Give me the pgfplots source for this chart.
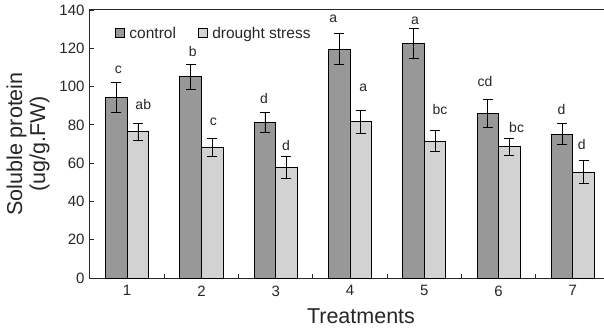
\documentclass[border=0pt]{standalone}
\usepackage{fontspec}
\setmainfont{Liberation Sans}
\usepackage{pgfplots}
\pgfplotsset{compat=1.18}
\definecolor{darkbar}{RGB}{152,152,152}
\definecolor{lightbar}{RGB}{210,210,210}
\definecolor{axisgray}{RGB}{40,40,40}
\begin{document}
\begin{tikzpicture}
\path[use as bounding box] (-90pt,-51pt) rectangle (514pt,278pt);
\begin{axis}[
  at={(0pt,0pt)}, anchor=south west,
  scale only axis, width=520pt, height=268pt,
  xmin=0.5, xmax=7.5, ymin=0, ymax=140,
  axis line style={axisgray, line width=1pt},
  tick align=inside, xtick pos=bottom, ytick pos=left,
  major tick length=4pt,
  tick style={axisgray, line width=0.8pt},
  ytick={0,20,...,140},
  xtick={1.5,2.5,3.5,4.5,5.5,6.5}, xticklabels={},
  extra x ticks={1,2,3,4,5,6,7},
  extra x tick labels={1,2,3,4,5,6,7},
  extra x tick style={major tick length=0pt},
  /pgf/number format/assume math mode=true,
  ticklabel style={font=\fontsize{15}{17}\selectfont, text=black!85},
  yticklabel style={xshift=-2pt},
  xticklabel style={yshift=-4pt},
  xlabel={Treatments},
  xlabel style={font=\fontsize{21.5}{23}\selectfont, text=black!85, yshift=-6pt, xshift=11pt},
  ylabel={Soluble protein\\(ug/g.FW)},
  ylabel style={font=\fontsize{21.5}{23}\selectfont, text=black!85, align=center, yshift=3pt},
  legend columns=2,
  legend style={draw=none, fill=none, at={(0,1)}, anchor=north west, xshift=22pt, yshift=-13pt,
    font=\fontsize{15.5}{17}\selectfont, text=black!85,
    /tikz/every even column/.append style={column sep=20pt}},
  legend image code/.code={\draw[#1, line width=0.6pt] (0pt,-4pt) rectangle (9pt,5pt);
    \path[draw=none, fill=none] (12pt,0pt) circle (0pt);},
]
\addplot[ybar, bar width=0.29, bar shift=0, fill=darkbar, draw=black, line width=0.8pt,
  error bars/.cd, y dir=both, y explicit,
  error bar style={black, line width=0.8pt},
  error mark options={rotate=90, mark size=5pt, black, line width=0.8pt}]
coordinates {
 (0.855,94.4) +- (0,7.8)
 (1.855,105.2) +- (0,6.6)
 (2.855,81.1) +- (0,5.2)
 (3.855,119.6) +- (0,8.2)
 (4.855,122.6) +- (0,7.9)
 (5.855,86.0) +- (0,7.3)
 (6.855,75.2) +- (0,5.3)
};
\addlegendentry{control}
\addplot[ybar, bar width=0.29, bar shift=0, fill=lightbar, draw=black, line width=0.8pt,
  error bars/.cd, y dir=both, y explicit,
  error bar style={black, line width=0.8pt},
  error mark options={rotate=90, mark size=5pt, black, line width=0.8pt}]
coordinates {
 (1.145,76.4) +- (0,4.4)
 (2.145,68.1) +- (0,4.8)
 (3.145,57.8) +- (0,5.8)
 (4.145,81.7) +- (0,6.0)
 (5.145,71.6) +- (0,5.3)
 (6.145,68.6) +- (0,4.5)
 (7.145,55.4) +- (0,6.0)
};
\addlegendentry{drought stress}
\addplot[only marks, mark=none, nodes near coords, point meta=explicit symbolic,
  every node near coord/.style={anchor=center, font=\fontsize{14}{16}\selectfont, text=black!85}]
coordinates {
 (0.881,108.7) [c]
 (1.217,90.4) [ab]
 (1.882,118.2) [b]
 (2.160,81.7) [c]
 (2.842,93.9) [d]
 (3.138,69.1) [d]
 (3.775,135.3) [a]
 (4.179,99.6) [a]
 (4.875,134.4) [a]
 (5.211,87.8) [bc]
 (5.817,102.9) [cd]
 (6.243,78.7) [bc]
 (6.849,87.8) [d]
 (7.119,69.9) [d]
};
\end{axis}
\end{tikzpicture}
\end{document}
